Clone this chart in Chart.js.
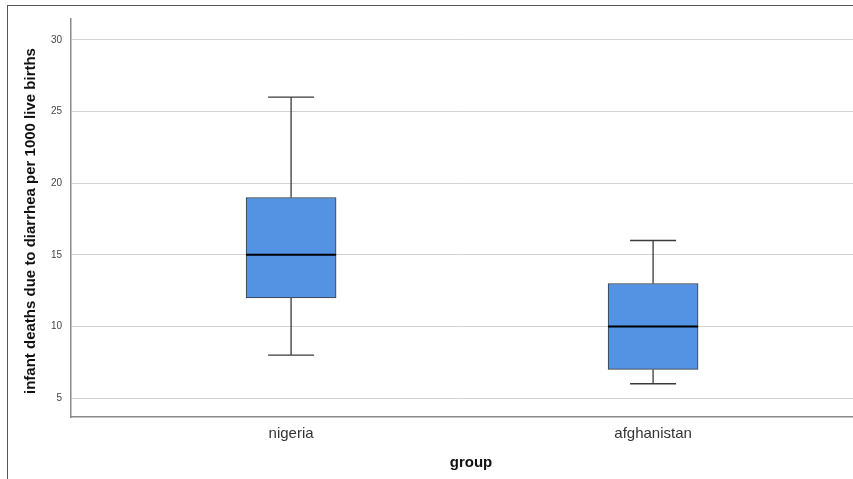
<!DOCTYPE html>
<html>
<head>
<meta charset="utf-8">
<script src="https://cdn.jsdelivr.net/npm/chart.js@4"></script>
<style>
  html, body { margin: 0; padding: 0; background: #fff; overflow: hidden; }
  #frame {
    position: absolute; left: 7px; top: 5px; width: 846px; height: 474px;
    border-top: 1px solid #555; border-left: 1px solid #555;
  }
  #wrap { position: absolute; left: 1px; top: -2px; width: 845px; height: 476px; }
</style>
</head>
<body>
<div id="frame"><div id="wrap"><canvas id="boxChart"></canvas></div></div>
<script>
// categorias y valores del diagrama de caja
const groups = ['nigeria', 'afghanistan'];
const whiskerLow = [8, 6];
const q1 = [12, 7];
const median = [15, 10];
const q3 = [19, 13];
const whiskerHigh = [26, 16];
const yTicks = [5, 10, 15, 20, 25, 30];

const yTitle = 'infant deaths due to diarrhea per 1000 live births';
const xTitle = 'group';

// bigotes y mediana, dibujados con las escalas del chart
const boxExtras = {
  id: 'boxExtras',
  afterDatasetsDraw(chart) {
    const { ctx, scales: { x, y } } = chart;
    ctx.save();
    groups.forEach((g, i) => {
      const cx = x.getPixelForValue(i + 1);
      const cap = 23;
      ctx.strokeStyle = '#3a3a3a';
      ctx.lineWidth = 1.3;
      ctx.beginPath();
      ctx.moveTo(cx, y.getPixelForValue(q3[i]));
      ctx.lineTo(cx, y.getPixelForValue(whiskerHigh[i]));
      ctx.moveTo(cx, y.getPixelForValue(q1[i]));
      ctx.lineTo(cx, y.getPixelForValue(whiskerLow[i]));
      ctx.moveTo(cx - cap, y.getPixelForValue(whiskerHigh[i]));
      ctx.lineTo(cx + cap, y.getPixelForValue(whiskerHigh[i]));
      ctx.moveTo(cx - cap, y.getPixelForValue(whiskerLow[i]));
      ctx.lineTo(cx + cap, y.getPixelForValue(whiskerLow[i]));
      ctx.stroke();
      // mediana
      ctx.strokeStyle = '#000';
      ctx.lineWidth = 2;
      ctx.beginPath();
      ctx.moveTo(cx - 45, y.getPixelForValue(median[i]));
      ctx.lineTo(cx + 45, y.getPixelForValue(median[i]));
      ctx.stroke();
    });
    ctx.restore();
  },
  // titulos de los ejes, colocados como en SPSS
  afterDraw(chart) {
    const { ctx, chartArea } = chart;
    ctx.save();
    ctx.fillStyle = '#111';
    ctx.textAlign = 'center';
    ctx.textBaseline = 'middle';
    ctx.font = 'bold 15px "Liberation Sans"';
    ctx.translate(22, chartArea.top + 202);
    ctx.rotate(-Math.PI / 2);
    ctx.fillText(yTitle, 0, 0);
    ctx.restore();
    ctx.save();
    ctx.fillStyle = '#111';
    ctx.textAlign = 'center';
    ctx.textBaseline = 'middle';
    ctx.font = 'bold 15px "Liberation Sans"';
    ctx.fillText(xTitle, 462, chartArea.bottom + 46);
    ctx.restore();
  }
};

const ctx = document.getElementById('boxChart').getContext('2d');
new Chart(ctx, {
  type: 'bar',
  data: {
    datasets: [{
      data: groups.map((g, i) => ({ x: i + 1, y: [q1[i], q3[i]] })),
      backgroundColor: '#5493e3',
      borderColor: '#3a3a3a',
      borderWidth: 1,
      borderSkipped: false,
      barThickness: 90
    }]
  },
  options: {
    responsive: true,
    maintainAspectRatio: false,
    animation: false,
    layout: { padding: 0 },
    plugins: {
      legend: { display: false },
      tooltip: { enabled: false }
    },
    scales: {
      x: {
        type: 'linear',
        offset: false,
        min: 0.392,
        max: 2.555,
        afterBuildTicks: scale => { scale.ticks = [{ value: 1 }, { value: 2 }]; },
        afterFit: scale => { scale.height = 63; },
        grid: { display: false, drawTicks: false },
        border: { display: true, color: '#8a8a8a', width: 1.5 },
        ticks: {
          padding: 8,
          color: '#333',
          font: { family: 'Liberation Sans', size: 15 },
          callback: v => groups[v - 1]
        }
      },
      y: {
        min: 3.68,
        max: 31.46,
        afterBuildTicks: scale => { scale.ticks = yTicks.map(v => ({ value: v })); },
        afterFit: scale => { scale.width = 62; },
        grid: { color: '#d2d2d2', lineWidth: 1, drawTicks: false },
        border: { display: true, color: '#8a8a8a', width: 1.5 },
        ticks: {
          padding: 9,
          color: '#444',
          font: { family: 'Liberation Sans', size: 10 }
        }
      }
    }
  },
  plugins: [boxExtras]
});
</script>
</body>
</html>
